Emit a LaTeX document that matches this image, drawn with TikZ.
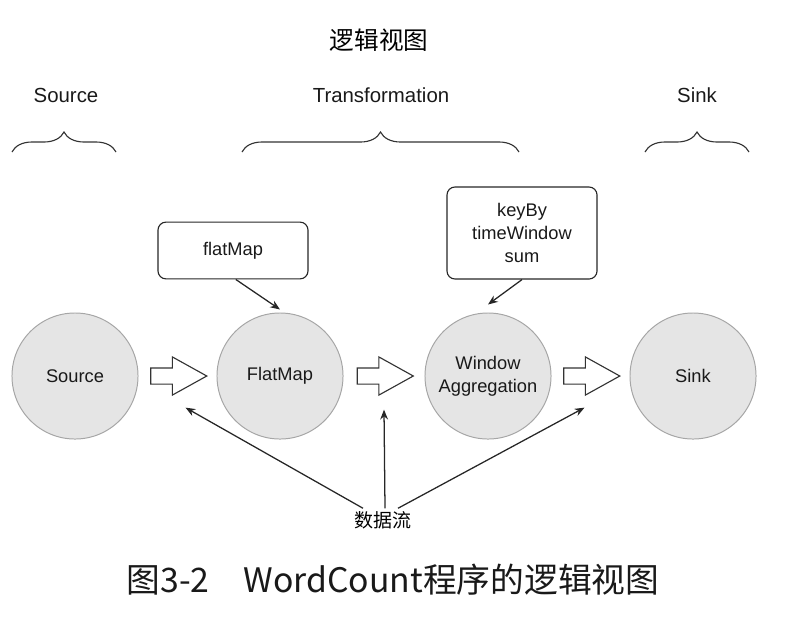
\documentclass[tikz,border=0pt]{standalone}
\usepackage{fontspec}
\setmainfont{Liberation Sans}
\newfontfamily\cjk{Noto Sans CJK SC}
\usetikzlibrary{shapes.arrows,arrows.meta,decorations.pathreplacing,calc}

\begin{document}
\begin{tikzpicture}[x=0.025cm,y=-0.025cm,
    op/.style={circle,draw=black!35,fill=black!10,line width=0.7pt,minimum size=3.15cm,inner sep=0pt,align=center,font=\fontsize{13}{16.5}\selectfont,text=black!90},
    fnbox/.style={draw=black!85,rounded corners=0.2cm,line width=0.8pt,minimum width=3.75cm,align=center,font=\fontsize{13}{16.5}\selectfont,text=black!90},
    flow/.style={single arrow,draw=black!80,line width=0.8pt,minimum height=1.4cm,inner xsep=0pt,inner ysep=0.1875cm,single arrow head extend=0.275cm,single arrow head indent=0pt,single arrow tip angle=58},
    grp/.style={font=\fontsize{14.5}{17}\selectfont,text=black!90},
    brc/.style={decorate,decoration={brace,amplitude=0.5cm},line width=0.8pt,draw=black!80},
    ptr/.style={-{Stealth[length=7pt,width=5.5pt]},line width=0.9pt,draw=black!85}
]
    \useasboundingbox (0,0) rectangle (794,627);
    % title
    \node[font=\cjk\fontsize{17.5}{20}\selectfont] (title) at (379,40) {逻辑视图};
    % groups
    \node[grp] (gsrc) at (66,95) {Source};
    \node[grp] (gtrans) at (381,95) {Transformation};
    \node[grp] (gsink) at (697,95) {Sink};
    \draw[brc] (12,152) -- (116,152);
    \draw[brc] (242,152) -- (519,152);
    \draw[brc] (645,152) -- (749,152);

    % operators
    \node[op] (src) at (75,376) {Source};
    \node[op] (fmap) at (280,376) {FlatMap};
    \node[op] (win) at (488,376) {Window\\Aggregation};
    \node[op] (sink) at (693,376) {Sink};

    % stream arrows
    \node[flow] (s1) at ($(src.east)!0.5!(fmap.west)+(-6,0)$) {};
    \node[flow] (s2) at ($(fmap.east)!0.5!(win.west)+(-6,0)$) {};
    \node[flow] (s3) at ($(win.east)!0.5!(sink.west)+(-6,0)$) {};

    % functions
    \node[fnbox,minimum height=1.42cm] (fmbox) at (233,250.5) {flatMap};
    \node[fnbox,minimum height=2.3cm] (winbox) at (522,233) {keyBy\\timeWindow\\sum};
    \draw[ptr] ([xshift=2pt]fmbox.south) -- ($(fmap.north)+(0,-3)$);
    \draw[ptr] (winbox.south) -- ($(win.north)+(0,-8)$);

    % data stream
    \node[font=\cjk\fontsize{13.5}{16}\selectfont] (data) at (383,520) {数据流};
    \draw[ptr] ($(data.north)+(-20,2)$) -- ($(s1.south)+(14,23)$);
    \draw[ptr] ($(data.north)+(2,2)$) -- ($(s2.south)+(6,25)$);
    \draw[ptr] ($(data.north)+(15,2)$) -- ($(s3.south)+(0,23)$);

    % caption
    \node[font=\cjk\fontsize{24}{28}\selectfont,text=black!90] (caption) at (393,580) {图3-2　WordCount程序的逻辑视图};
\end{tikzpicture}
\end{document}
